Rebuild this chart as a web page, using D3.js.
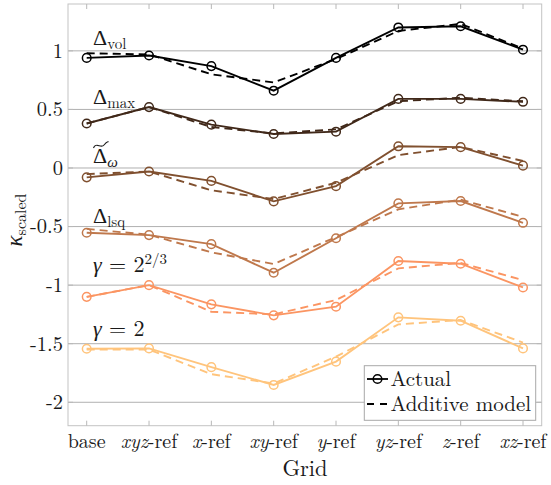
<!DOCTYPE html>
<html>
<head>
<meta charset="utf-8">
<script src="https://cdn.jsdelivr.net/npm/d3@7"></script>
<style>
  body { margin: 0; background: #fff; }
</style>
</head>
<body>
<svg id="chart" width="551" height="485"></svg>
<script>
const categories = ["base", "xyz-ref", "x-ref", "xy-ref", "y-ref", "yz-ref", "z-ref", "xz-ref"];
// italic part of each tick label
const catItalic = ["", "xyz", "x", "xy", "y", "yz", "z", "xz"];

const yTicks = [-2, -1.5, -1, -0.5, 0, 0.5, 1];
const yTickLabels = ["-2", "-1.5", "-1", "-0.5", "0", "0.5", "1"];

// actual values
const volActual = [0.94, 0.96, 0.87, 0.66, 0.94, 1.20, 1.21, 1.01];
const maxActual = [0.38, 0.52, 0.37, 0.29, 0.31, 0.59, 0.59, 0.565];
const omegaActual = [-0.08, -0.03, -0.11, -0.285, -0.155, 0.185, 0.178, 0.02];
const lsqActual = [-0.553, -0.573, -0.65, -0.894, -0.60, -0.302, -0.282, -0.468];
const g23Actual = [-1.10, -1.00, -1.164, -1.258, -1.184, -0.794, -0.817, -1.02];
const g2Actual = [-1.543, -1.54, -1.70, -1.852, -1.653, -1.275, -1.304, -1.54];

// additive model values
const volModel = [0.98, 0.97, 0.80, 0.73, 0.93, 1.17, 1.23, 1.02];
const maxModel = [0.38, 0.52, 0.35, 0.295, 0.33, 0.57, 0.60, 0.57];
const omegaModel = [-0.052, -0.03, -0.19, -0.265, -0.126, 0.11, 0.18, 0.06];
const lsqModel = [-0.52, -0.57, -0.72, -0.82, -0.59, -0.353, -0.27, -0.417];
const g23Model = [-1.10, -1.00, -1.227, -1.25, -1.127, -0.857, -0.81, -0.957];
const g2Model = [-1.55, -1.55, -1.76, -1.84, -1.61, -1.335, -1.298, -1.49];

const colors = ["#000000", "#402819", "#80502f", "#bf784c", "#fb9562", "#ffc47c"];

const seriesList = [
  { actual: volActual, model: volModel, color: colors[0] },
  { actual: maxActual, model: maxModel, color: colors[1] },
  { actual: omegaActual, model: omegaModel, color: colors[2] },
  { actual: lsqActual, model: lsqModel, color: colors[3] },
  { actual: g23Actual, model: g23Model, color: colors[4] },
  { actual: g2Actual, model: g2Model, color: colors[5] }
];

const FONT = '"Latin Modern Roman"';
const GREEK = '"Liberation Serif"';
const ink = "#1a1a1a";

const pLeft = 68, pRight = 541.7, pTop = 4, pBottom = 425.7;
const svg = d3.select("#chart");

const x = d3.scalePoint().domain(categories).range([pLeft, pRight]).padding(0.3);
const y = d3.scaleLinear().domain([-2.2, 1.4]).range([pBottom, pTop]);

// grid lines
svg.append("g").selectAll("line").data(yTicks).join("line")
  .attr("x1", pLeft).attr("x2", pRight)
  .attr("y1", d => y(d)).attr("y2", d => y(d))
  .attr("stroke", "#b0b0b0").attr("stroke-width", 1);

// box
svg.append("rect")
  .attr("x", pLeft).attr("y", pTop)
  .attr("width", pRight - pLeft).attr("height", pBottom - pTop)
  .attr("fill", "none").attr("stroke", "#c4c4c4").attr("stroke-width", 1);

// ticks (inward, mirrored)
const tk = svg.append("g").attr("stroke", "#b8b8b8").attr("stroke-width", 1);
categories.forEach(c => {
  tk.append("line").attr("x1", x(c)).attr("x2", x(c)).attr("y1", pBottom).attr("y2", pBottom - 5);
  tk.append("line").attr("x1", x(c)).attr("x2", x(c)).attr("y1", pTop).attr("y2", pTop + 5);
});
yTicks.forEach(v => {
  tk.append("line").attr("x1", pLeft).attr("x2", pLeft + 5).attr("y1", y(v)).attr("y2", y(v));
  tk.append("line").attr("x1", pRight).attr("x2", pRight - 5).attr("y1", y(v)).attr("y2", y(v));
});

// y tick labels
svg.append("g").selectAll("text").data(yTicks).join("text")
  .attr("x", 63).attr("y", d => y(d) + 6.8)
  .attr("text-anchor", "end").attr("font-size", 20.5).attr("fill", ink)
  .style("font-family", FONT)
  .text((d, i) => yTickLabels[i]);

// x tick labels
const xl = svg.append("g").selectAll("text").data(categories).join("text")
  .attr("x", d => x(d)).attr("y", 448)
  .attr("text-anchor", "middle").attr("font-size", 20).attr("fill", ink)
  .style("font-family", FONT);
xl.each(function(d, i) {
  const t = d3.select(this);
  if (catItalic[i]) {
    t.append("tspan").attr("font-style", "italic").text(catItalic[i]);
    t.append("tspan").text(d.slice(catItalic[i].length));
  } else {
    t.text(d);
  }
});

// axis titles
svg.append("text").attr("x", 305).attr("y", 476).attr("text-anchor", "middle")
  .attr("font-size", 22.5).attr("fill", ink).style("font-family", FONT).text("Grid");
const yl = svg.append("text").attr("transform", "translate(22,220) rotate(-90)")
  .attr("text-anchor", "middle").attr("font-size", 23).attr("fill", ink)
  .style("font-family", FONT);
yl.append("tspan").attr("font-style", "italic").style("font-family", GREEK).text("κ");
yl.append("tspan").attr("font-size", 16).attr("dy", 4).text("scaled");

// series
const line = d3.line().x((d, i) => x(categories[i])).y(d => y(d));
const plot = svg.append("g");
seriesList.forEach(s => {
  plot.append("path").datum(s.model)
    .attr("fill", "none").attr("stroke", s.color).attr("stroke-width", 1.9)
    .attr("stroke-dasharray", "8,5").attr("d", line);
  plot.append("path").datum(s.actual)
    .attr("fill", "none").attr("stroke", s.color).attr("stroke-width", 1.9)
    .attr("d", line);
  plot.append("g").selectAll("circle").data(s.actual).join("circle")
    .attr("cx", (d, i) => x(categories[i])).attr("cy", d => y(d))
    .attr("r", 4.3).attr("fill", "none")
    .attr("stroke", s.color).attr("stroke-width", 1.5);
});

// series labels
function labelSub(px, py, sub, greekSub) {
  const t = svg.append("text").attr("x", px).attr("y", py).attr("font-size", 22).attr("fill", ink)
    .style("font-family", FONT);
  t.append("tspan").style("font-family", GREEK).text("Δ");
  const s = t.append("tspan").attr("font-size", 15).attr("dy", 4).text(sub);
  if (greekSub) s.style("font-family", GREEK).attr("font-style", "italic");
  return t;
}
labelSub(93, 45, "vol", false);
labelSub(93, 104, "max", false);
labelSub(93, 163, "ω", true);
svg.append("path").attr("d", "M93.5,148 C96,141.5 101,149 104,145 S107.5,142 108.5,141.5")
  .attr("fill", "none").attr("stroke", ink).attr("stroke-width", 1.1);
labelSub(93, 223, "lsq", false);

function labelGamma(py, sup) {
  const t = svg.append("text").attr("x", 93).attr("y", py).attr("font-size", 22).attr("fill", ink)
    .style("font-family", FONT);
  t.append("tspan").attr("font-style", "italic").style("font-family", GREEK).text("γ");
  t.append("tspan").text(" = 2");
  if (sup) t.append("tspan").attr("font-size", 15).attr("dy", -8).text(sup);
}
labelGamma(272, "2/3");
labelGamma(336, null);

// legend
const lg = svg.append("g");
lg.append("rect").attr("x", 364.3).attr("y", 365.7).attr("width", 171.4).attr("height", 54.6)
  .attr("fill", "#fff").attr("stroke", "#a8a8a8").attr("stroke-width", 1);
lg.append("line").attr("x1", 367).attr("x2", 388).attr("y1", 379).attr("y2", 379)
  .attr("stroke", "#000").attr("stroke-width", 1.8);
lg.append("circle").attr("cx", 377.5).attr("cy", 379).attr("r", 4.3)
  .attr("fill", "none").attr("stroke", "#000").attr("stroke-width", 1.5);
lg.append("line").attr("x1", 367).attr("x2", 388).attr("y1", 404).attr("y2", 404)
  .attr("stroke", "#000").attr("stroke-width", 1.8).attr("stroke-dasharray", "7,6");
lg.append("text").attr("x", 390.5).attr("y", 386).attr("font-size", 21).attr("fill", ink)
  .style("font-family", FONT).text("Actual");
lg.append("text").attr("x", 390.5).attr("y", 411).attr("font-size", 21).attr("fill", ink)
  .style("font-family", FONT).text("Additive model");
</script>
</body>
</html>
